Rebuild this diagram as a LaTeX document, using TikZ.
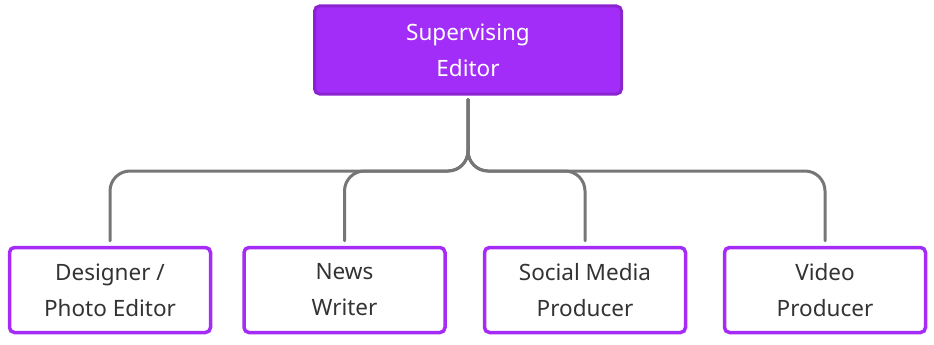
\documentclass[tikz,border=0pt]{standalone}
\usepackage{fontspec}
\setmainfont{Noto Sans}
\definecolor{topfill}{HTML}{A22CF8}
\definecolor{topdraw}{HTML}{8A24CE}
\definecolor{boxdraw}{HTML}{A52CF6}
\definecolor{txt}{HTML}{333333}
\definecolor{wire}{HTML}{767676}
\begin{document}
\begin{tikzpicture}[x=1pt,y=-1pt,
  topbox/.style={draw=topdraw,fill=topfill,line width=3pt,rounded corners=5pt,
    minimum width=307pt,minimum height=88pt,align=center,text=white,
    font=\fontsize{22.5}{36}\selectfont},
  leafbox/.style={draw=boxdraw,fill=white,line width=3.5pt,rounded corners=5pt,
    minimum width=201pt,minimum height=85pt,align=center,text=txt,
    font=\fontsize{22.5}{36}\selectfont},
  wireline/.style={draw=wire,line width=3pt,rounded corners=20pt,line cap=round}]
\useasboundingbox (0,0) rectangle (934,345);
\node[topbox] (top) at (468,50) {Supervising\\Editor};
\node[leafbox] (b1) at (110,290) {Designer /\\Photo Editor};
\node[leafbox] (b2) at (344.5,290) {News\\Writer};
\node[leafbox] (b3) at (585,290) {Social Media\\Producer};
\node[leafbox] (b4) at (825,290) {Video\\Producer};
\coordinate (bus) at (468,171);
\foreach \b in {b1,b2,b3,b4}{
  \draw[wireline,shorten <=4pt,shorten >=5pt] (top.south) -- (bus) -| (\b.north);
}
\end{tikzpicture}
\end{document}
